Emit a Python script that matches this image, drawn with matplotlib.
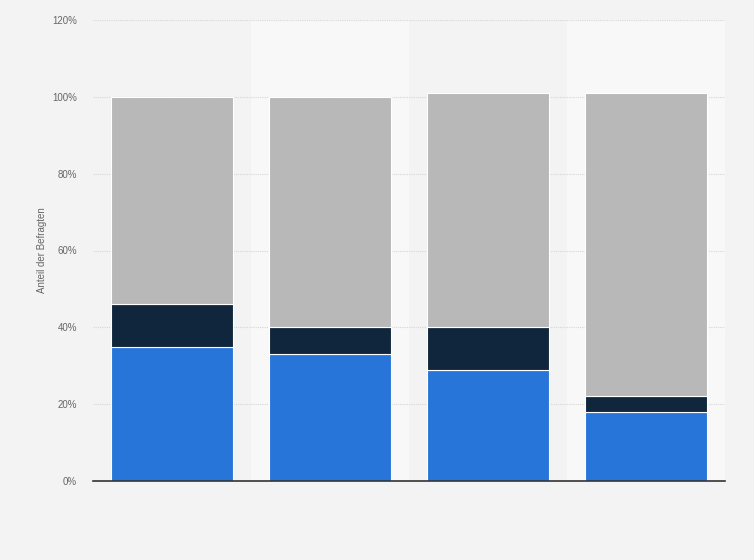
import numpy as np
import matplotlib
matplotlib.use("Agg")
import matplotlib.pyplot as plt
from matplotlib.ticker import FuncFormatter

plt.rcParams['font.family'] = ['Liberation Sans', 'DejaVu Sans']

# stacked shares per survey group (percent)
groups = ["1", "2", "3", "4"]
share_blue = [35, 33, 29, 18]
share_navy = [11, 7, 11, 4]
share_grey = [54, 60, 61, 79]

yticks = [0, 20, 40, 60, 80, 100, 120]
ylabel = "Anteil der Befragten"

fig = plt.figure(figsize=(7.54, 5.6), dpi=100)
fig.patch.set_facecolor("#f3f3f3")
ax = fig.add_axes([93/754, 79/560, 632/754, 461/560])
ax.set_facecolor("#f3f3f3")

x = np.arange(len(groups))
# alternating background bands
for i in x:
    if i % 2 == 1:
        ax.axvspan(i - 0.5, i + 0.5, color="#f8f8f8", zorder=0, lw=0)

w = 0.77
blue = np.array(share_blue)
navy = np.array(share_navy)
grey = np.array(share_grey)
ax.bar(x, blue, w, color="#2775d8", edgecolor="white", linewidth=0.8, zorder=3)
ax.bar(x, navy, w, bottom=blue, color="#10263c", edgecolor="white", linewidth=0.8, zorder=3)
ax.bar(x, grey, w, bottom=blue + navy, color="#b8b8b8", edgecolor="white", linewidth=0.8, zorder=3)

ax.set_xlim(-0.5, len(groups) - 0.5)
ax.set_ylim(0, 120)
ax.set_yticks(yticks)
ax.yaxis.set_major_formatter(FuncFormatter(lambda v, p: "%d%%" % v))
ax.set_xticks([])
ax.grid(axis="y", color="#d6d6d6", linestyle=(0, (1, 1)), linewidth=0.8, zorder=1)
ax.tick_params(axis="y", length=0, pad=11.5, labelsize=7, labelcolor="#666666")
for s in ["top", "right", "left"]:
    ax.spines[s].set_visible(False)
ax.spines["bottom"].set_color("#333333")
ax.spines["bottom"].set_linewidth(1.2)
ax.spines["bottom"].set_zorder(4)
ax.set_ylabel(ylabel, fontsize=7, color="#666666")
ax.yaxis.set_label_coords(-0.072, 0.5)

fig.savefig("out.png", dpi=100, facecolor=fig.get_facecolor())
